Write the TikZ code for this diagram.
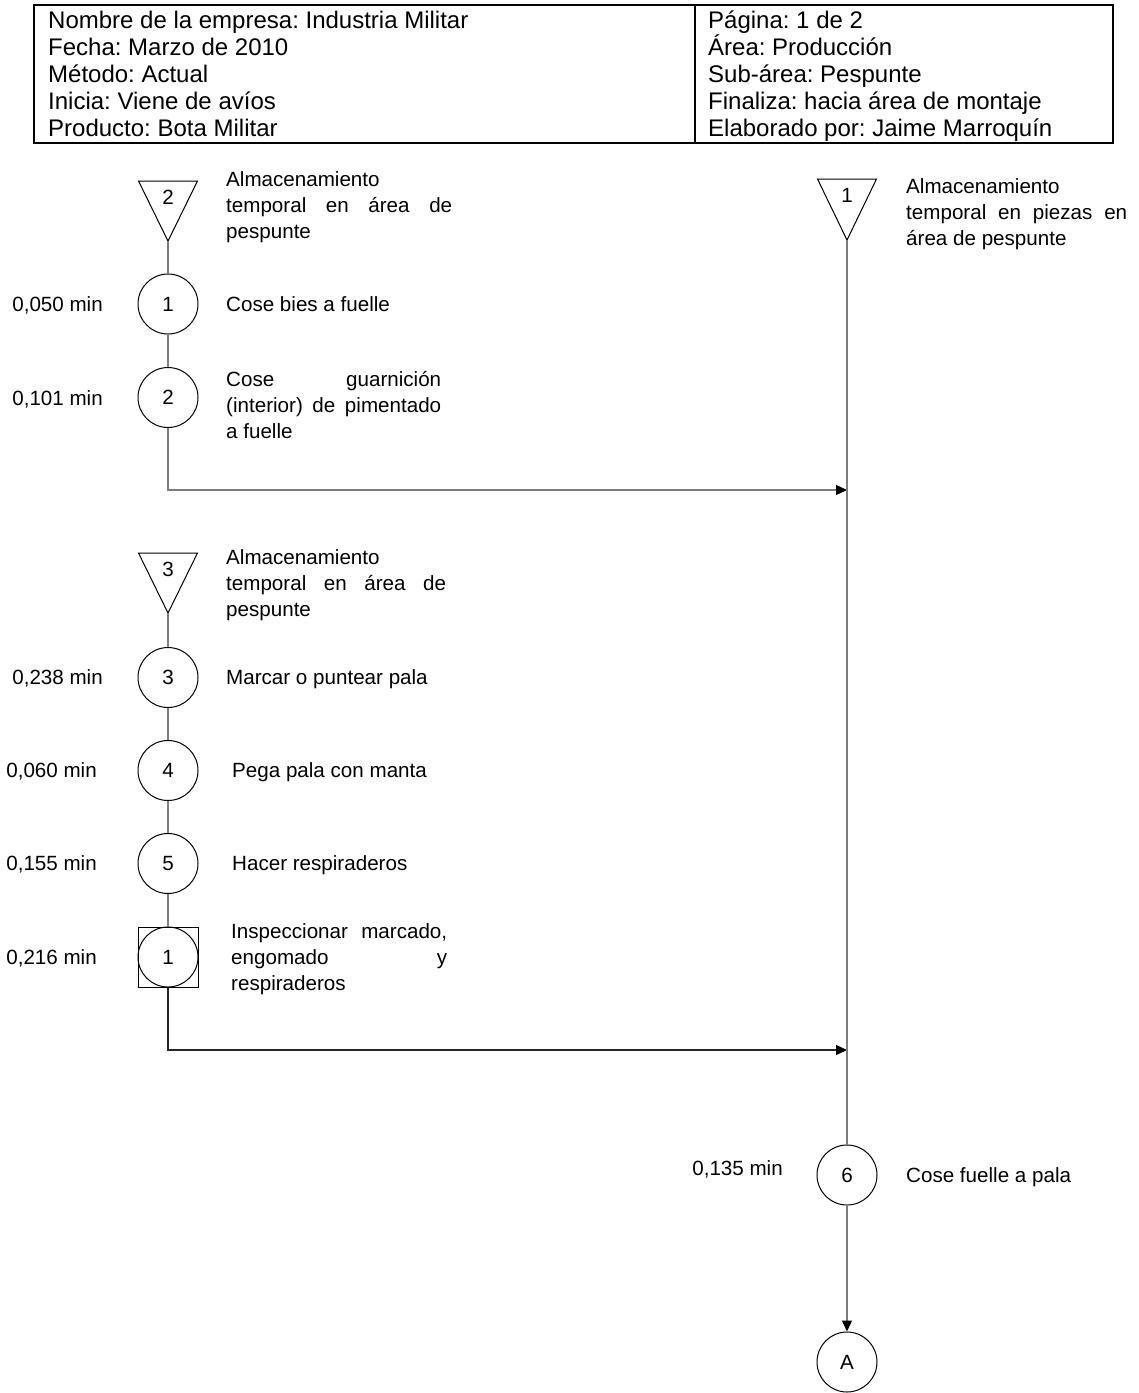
\documentclass[tikz,border=0pt]{standalone}
\usepackage{fontspec}
\setmainfont{Liberation Sans}
\usetikzlibrary{arrows.meta}
\frenchspacing
\newcommand\txtb{\fontsize{20.6pt}{26pt}\selectfont}
\newcommand\txth{\fontsize{24pt}{27pt}\selectfont}
\definecolor{lineg}{RGB}{125,125,125}
\begin{document}
\begin{tikzpicture}[x=1pt,y=-1pt,
  circ/.style={draw, circle, line width=1pt, minimum size=60pt, inner sep=0pt, font=\txtb},
  flow/.style={draw=lineg, line width=1.3pt},
  arr/.style={flow, -{Triangle[length=11pt,width=10pt,color=black]}},
  lbl/.style={inner sep=0pt, font=\txtb, text height=14.7pt, text depth=0pt},
  blk/.style={inner sep=0pt, font=\txtb, align=left, anchor=north west},
  hdr/.style={inner sep=0pt, font=\txth, anchor=base west},
  tri/.style={draw, line width=1pt}]
\useasboundingbox (0,0) rectangle (1139,1393);

% ---------- header table ----------
\draw[line width=2pt] (34,5) rectangle (1113,143);
\draw[line width=1.5pt] (695,5) -- (695,143);
\node[hdr] (h1) at (48,28.4)  {Nombre de la empresa: Industria Militar};
\node[hdr] (h2) at (48,55.4)  {Fecha: Marzo de 2010};
\node[hdr] (h3) at (48,82.4)  {Método: Actual};
\node[hdr] (h4) at (48,109.4) {Inicia: Viene de avíos};
\node[hdr] (h5) at (48,136.4) {Producto: Bota Militar};
\node[hdr] (h6) at (708,28.4)  {Página: 1 de 2};
\node[hdr] (h7) at (708,55.4)  {Área: Producción};
\node[hdr] (h8) at (708,82.4)  {Sub-área: Pespunte};
\node[hdr] (h9) at (708,109.4) {Finaliza: hacia área de montaje};
\node[hdr] (h10) at (708,136.4) {Elaborado por: Jaime Marroquín};

% ---------- storage triangles ----------
\draw[tri] (138.5,181) -- (197.5,181) -- (168,241) -- cycle;
\coordinate (t2) at (168,241);
\node[lbl] (t2n) at (168,197) {2};
\draw[tri] (817.5,179) -- (876.5,179) -- (847,240) -- cycle;
\coordinate (t1) at (847,240);
\node[lbl] (t1n) at (847,195) {1};
\draw[tri] (138.5,553) -- (197.5,553) -- (168,613) -- cycle;
\coordinate (t3) at (168,613);
\node[lbl] (t3n) at (168,569) {3};

% ---------- operations ----------
\node[circ] (c1) at (168,304) {1};
\node[circ] (c2) at (168,397.5) {2};
\node[circ] (c3) at (168,677.5) {3};
\node[circ] (c4) at (168,770.5) {4};
\node[circ] (c5) at (168,863.5) {5};
\node[draw, line width=1pt, minimum size=60pt, inner sep=0pt] (i1) at (168,957) {};
\node[circ] (i1c) at (168,957) {1};
\node[circ] (c6) at (847,1175) {6};
\node[circ] (cA) at (847,1362) {A};

% ---------- junctions ----------
\coordinate (j1) at (847,490);
\coordinate (j2) at (847,1050);

% ---------- connectors ----------
\draw[flow] (t2) -- (c1.north);
\draw[flow] (c1.south) -- (c2.north);
\draw[arr] (c2.south) |- (j1);
\draw[flow] (t3) -- (c3.north);
\draw[flow] (c3.south) -- (c4.north);
\draw[flow] (c4.south) -- (c5.north);
\draw[flow] (c5.south) -- (i1.north);
\draw[arr, draw=black!85] (i1.south) |- (j2);
\draw[flow] (t1) -- (c6.north);
\draw[arr] (c6.south) -- (cA.north);

% ---------- times ----------
\node[lbl, anchor=east] (m1) at (103,304) {0,050 min};
\node[lbl, anchor=east] (m2) at (103,398) {0,101 min};
\node[lbl, anchor=east] (m3) at (103,677) {0,238 min};
\node[lbl, anchor=east] (m4) at (97,770)  {0,060 min};
\node[lbl, anchor=east] (m5) at (97,863)  {0,155 min};
\node[lbl, anchor=east] (m6) at (97,957)  {0,216 min};
\node[lbl, anchor=east] (m7) at (783,1168) {0,135 min};

% ---------- descriptions ----------
\node[blk] (d2) at (226,171) {Almacenamiento\\\makebox[226pt][s]{temporal en área de}\\pespunte};
\node[blk] (d1) at (906,178) {Almacenamiento\\\makebox[221pt][s]{temporal en piezas en}\\área de pespunte};
\node[lbl, anchor=west] (o1) at (226,304) {Cose bies a fuelle};
\node[blk] (o2) at (226,371) {\makebox[215pt][s]{Cose guarnición}\\\makebox[215pt][s]{(interior) de pimentado}\\a fuelle};
\node[blk] (d3) at (226,549) {Almacenamiento\\\makebox[220pt][s]{temporal en área de}\\pespunte};
\node[lbl, anchor=west] (o3) at (226,677) {Marcar o puntear pala};
\node[lbl, anchor=west] (o4) at (232,770) {Pega pala con manta};
\node[lbl, anchor=west] (o5) at (232,863) {Hacer respiraderos};
\node[blk] (oi) at (231,923) {\makebox[216pt][s]{Inspeccionar marcado,}\\\makebox[216pt][s]{engomado y}\\respiraderos};
\node[lbl, anchor=west] (o6) at (906,1175) {Cose fuelle a pala};
\end{tikzpicture}
\end{document}
